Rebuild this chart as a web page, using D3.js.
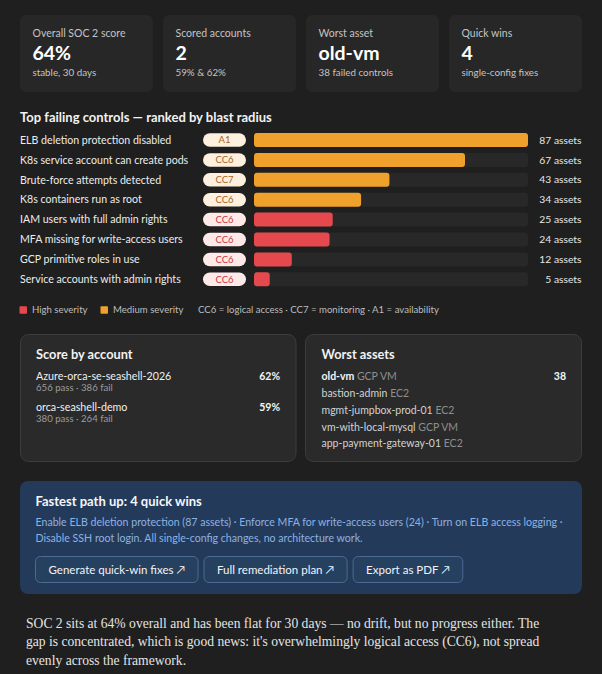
<!DOCTYPE html>
<html>
<head>
<meta charset="utf-8">
<script src="https://cdn.jsdelivr.net/npm/d3@7"></script>
<style>
  html, body { margin: 0; padding: 0; background: #1f1f1f; }
  svg { display: block; font-family: Lato, "Noto Sans", sans-serif; }
</style>
</head>
<body>
<div id="chart"></div>
<script>
// KPI cards
const kpiLabels = ["Overall SOC 2 score", "Scored accounts", "Worst asset", "Quick wins"];
const kpiValues = ["64%", "2", "old-vm", "4"];
const kpiSubs = ["stable, 30 days", "59% & 62%", "38 failed controls", "single-config fixes"];

// top failing controls
const controls = [
  "ELB deletion protection disabled",
  "K8s service account can create pods",
  "Brute-force attempts detected",
  "K8s containers run as root",
  "IAM users with full admin rights",
  "MFA missing for write-access users",
  "GCP primitive roles in use",
  "Service accounts with admin rights"
];
const frameworks = ["A1", "CC6", "CC7", "CC6", "CC6", "CC6", "CC6", "CC6"];
const assetCounts = [87, 67, 43, 34, 25, 24, 12, 5];
const severities = ["medium", "medium", "medium", "medium", "high", "high", "high", "high"];
const legendItems = ["High severity", "Medium severity"];
const legendNote = "CC6 = logical access · CC7 = monitoring · A1 = availability";

// score by account
const accountNames = ["Azure-orca-se-seashell-2026", "orca-seashell-demo"];
const accountPass = [656, 380];
const accountFail = [386, 264];
const accountScores = [62, 59];

// worst assets
const assetNames = ["old-vm", "bastion-admin", "mgmt-jumpbox-prod-01", "vm-with-local-mysql", "app-payment-gateway-01"];
const assetTypes = ["GCP VM", "EC2", "EC2", "GCP VM", "EC2"];
const assetFailed = [38, null, null, null, null];

// quick wins
const quickWinTitle = "Fastest path up: 4 quick wins";
const quickWinLines = [
  "Enable ELB deletion protection (87 assets) · Enforce MFA for write-access users (24) · Turn on ELB access logging ·",
  "Disable SSH root login. All single-config changes, no architecture work."
];
const buttons = ["Generate quick-win fixes ↗", "Full remediation plan ↗", "Export as PDF ↗"];

const summaryLines = [
  "SOC 2 sits at 64% overall and has been flat for 30 days — no drift, but no progress either. The",
  "gap is concentrated, which is good news: it's overwhelmingly logical access (CC6), not spread",
  "evenly across the framework."
];

const W = 602, H = 674;
const colors = {high: "#e5484d", medium: "#f0a12c"};
const badgeFill = {high: "#fde9e8", medium: "#fdf0de"};
const badgeText = {high: "#c83a3a", medium: "#a8651c"};

const svg = d3.select("#chart").append("svg")
    .attr("width", W)
    .attr("height", H);

svg.append("rect").attr("width", W).attr("height", H).attr("fill", "#1f1f1f");

// ---- KPI cards
const kx = d3.scaleBand()
    .domain(d3.range(kpiLabels.length))
    .range([20, 582])
    .paddingInner(0.07);

const cards = svg.selectAll("g.kpi")
    .data(kpiLabels)
    .enter()
    .append("g")
    .attr("class", "kpi")
    .attr("transform", (d, i) => `translate(${kx(i)},15)`);

cards.append("rect")
    .attr("width", kx.bandwidth())
    .attr("height", 77)
    .attr("rx", 6)
    .attr("fill", "#272727");

cards.append("text")
    .attr("x", 12.5).attr("y", 18).attr("dy", "0.35em")
    .attr("fill", "#c4c4c4").style("font-size", "10.5px")
    .text(d => d);

cards.append("text")
    .attr("x", 12.5).attr("y", 38.5).attr("dy", "0.35em")
    .attr("fill", "#ffffff").style("font-size", "19.5px").style("font-weight", 700)
    .text((d, i) => kpiValues[i]);

cards.append("text")
    .attr("x", 12.5).attr("y", 58).attr("dy", "0.35em")
    .attr("fill", "#c4c4c4").style("font-size", "9.8px")
    .text((d, i) => kpiSubs[i]);

// ---- Top failing controls
svg.append("text")
    .attr("x", 20).attr("y", 117).attr("dy", "0.35em")
    .attr("fill", "#f2f2f2").style("font-size", "13px").style("font-weight", 700)
    .text("Top failing controls — ranked by blast radius");

const y = d3.scalePoint()
    .domain(controls)
    .range([140, 279.3]);

const x = d3.scaleLinear()
    .domain([0, d3.max(assetCounts)])
    .range([0, 274]);

const barX = 254, barH = 14;

const rows = svg.selectAll("g.row")
    .data(controls)
    .enter()
    .append("g")
    .attr("class", "row")
    .attr("transform", d => `translate(0,${y(d)})`);

rows.append("text")
    .attr("x", 20).attr("dy", "0.35em")
    .attr("fill", "#ececec").style("font-size", "10.6px")
    .text(d => d);

rows.append("rect")
    .attr("x", 203).attr("y", -6.75)
    .attr("width", 43).attr("height", 13.5)
    .attr("rx", 6.75)
    .attr("fill", (d, i) => badgeFill[severities[i]]);

rows.append("text")
    .attr("x", 224.5).attr("dy", "0.35em")
    .attr("text-anchor", "middle")
    .attr("fill", (d, i) => badgeText[severities[i]])
    .style("font-size", "9.5px")
    .text((d, i) => frameworks[i]);

rows.append("rect")
    .attr("x", barX).attr("y", -barH / 2)
    .attr("width", x.range()[1]).attr("height", barH)
    .attr("rx", 3)
    .attr("fill", "#282828");

rows.append("rect")
    .attr("x", barX).attr("y", -barH / 2)
    .attr("width", (d, i) => x(assetCounts[i])).attr("height", barH)
    .attr("rx", 3)
    .attr("fill", (d, i) => colors[severities[i]]);

rows.append("text")
    .attr("x", 581.5).attr("dy", "0.35em")
    .attr("text-anchor", "end")
    .attr("fill", "#e6e6e6").style("font-size", "10.3px")
    .text((d, i) => assetCounts[i] + " assets");

// legend
const legend = svg.append("g").attr("transform", "translate(0,310)");
const legX = [19.5, 100.5];
legendItems.forEach((t, i) => {
  legend.append("rect")
      .attr("x", legX[i]).attr("y", -3.75)
      .attr("width", 7.5).attr("height", 7.5).attr("rx", 1)
      .attr("fill", i === 0 ? colors.high : colors.medium);
  legend.append("text")
      .attr("x", legX[i] + 12.5).attr("dy", "0.35em")
      .attr("fill", "#bdbdbd").style("font-size", "9.6px")
      .text(t);
});
legend.append("text")
    .attr("x", 198).attr("dy", "0.35em")
    .attr("fill", "#bdbdbd").style("font-size", "9.6px")
    .text(legendNote);

// ---- Score by account
const acc = svg.append("g").attr("transform", "translate(20.5,334.5)");
acc.append("rect")
    .attr("width", 275.5).attr("height", 127).attr("rx", 8)
    .attr("fill", "#2a2a2a").attr("stroke", "#3c3c3c");
acc.append("text")
    .attr("x", 15.5).attr("y", 20.5).attr("dy", "0.35em")
    .attr("fill", "#f2f2f2").style("font-size", "12.8px").style("font-weight", 700)
    .text("Score by account");

const accY = d3.scalePoint().domain(accountNames).range([42, 73]);
accountNames.forEach((name, i) => {
  acc.append("text")
      .attr("x", 15.5).attr("y", accY(name)).attr("dy", "0.35em")
      .attr("fill", "#f0f0f0").style("font-size", "10.7px")
      .text(name);
  acc.append("text")
      .attr("x", 15.5).attr("y", accY(name) + 11.5).attr("dy", "0.35em")
      .attr("fill", "#9c9c9c").style("font-size", "9.6px")
      .text(`${accountPass[i]} pass · ${accountFail[i]} fail`);
  acc.append("text")
      .attr("x", 259.5).attr("y", accY(name)).attr("dy", "0.35em")
      .attr("text-anchor", "end")
      .attr("fill", "#f5f5f5").style("font-size", "10.5px").style("font-weight", 700)
      .text(accountScores[i] + "%");
});

// ---- Worst assets
const wa = svg.append("g").attr("transform", "translate(305.5,334.5)");
wa.append("rect")
    .attr("width", 276).attr("height", 127).attr("rx", 8)
    .attr("fill", "#2a2a2a").attr("stroke", "#3c3c3c");
wa.append("text")
    .attr("x", 16).attr("y", 20.5).attr("dy", "0.35em")
    .attr("fill", "#f2f2f2").style("font-size", "12.8px").style("font-weight", 700)
    .text("Worst assets");

const waY = d3.scalePoint().domain(assetNames).range([42.2, 109.2]);
assetNames.forEach((name, i) => {
  const t = wa.append("text")
      .attr("x", 16).attr("y", waY(name)).attr("dy", "0.35em")
      .style("font-size", "10.5px");
  t.append("tspan")
      .attr("fill", i === 0 ? "#f5f5f5" : "#d2d2d2")
      .style("font-weight", i === 0 ? 700 : 400)
      .text(name + " ");
  t.append("tspan")
      .attr("fill", "#8e8e8e")
      .text(assetTypes[i]);
  if (assetFailed[i] != null) {
    wa.append("text")
        .attr("x", 260.5).attr("y", waY(name)).attr("dy", "0.35em")
        .attr("text-anchor", "end")
        .attr("fill", "#f5f5f5").style("font-size", "10.5px").style("font-weight", 700)
        .text(assetFailed[i]);
  }
});

// ---- Quick wins card
const qw = svg.append("g").attr("transform", "translate(20,481)");
qw.append("rect")
    .attr("width", 562).attr("height", 113).attr("rx", 8)
    .attr("fill", "#243a5a");
qw.append("text")
    .attr("x", 15.5).attr("y", 20).attr("dy", "0.35em")
    .attr("fill", "#f4f6fa").style("font-size", "13px").style("font-weight", 700)
    .text(quickWinTitle);
quickWinLines.forEach((line, i) => {
  qw.append("text")
      .attr("x", 15.5).attr("y", 41.7 + i * 15.6).attr("dy", "0.35em")
      .attr("fill", "#8db2e2").style("font-size", "10.6px")
      .text(line);
});

let bx = 15;
buttons.forEach(label => {
  const g = qw.append("g").attr("transform", `translate(${bx},75)`);
  const rect = g.append("rect")
      .attr("x", 0.5).attr("y", 0.5)
      .attr("height", 26).attr("rx", 5)
      .attr("fill", "#26405f").attr("stroke", "#4c6a93");
  const txt = g.append("text")
      .attr("y", 13.5).attr("dy", "0.35em")
      .attr("text-anchor", "middle")
      .attr("fill", "#f2f4f8").style("font-size", "11.5px")
      .text(label);
  const w = txt.node().getComputedTextLength() + 26;
  rect.attr("width", w);
  txt.attr("x", w / 2 + 0.5);
  bx += w + 6;
});

// ---- Summary paragraph
summaryLines.forEach((line, i) => {
  svg.append("text")
      .attr("x", 26).attr("y", 623 + i * 18.6).attr("dy", "0.35em")
      .attr("fill", "#e4e4e4")
      .style("font-family", "'Liberation Serif', 'DejaVu Serif', serif")
      .style("font-size", "13.6px")
      .text(line);
});
</script>
</body>
</html>
